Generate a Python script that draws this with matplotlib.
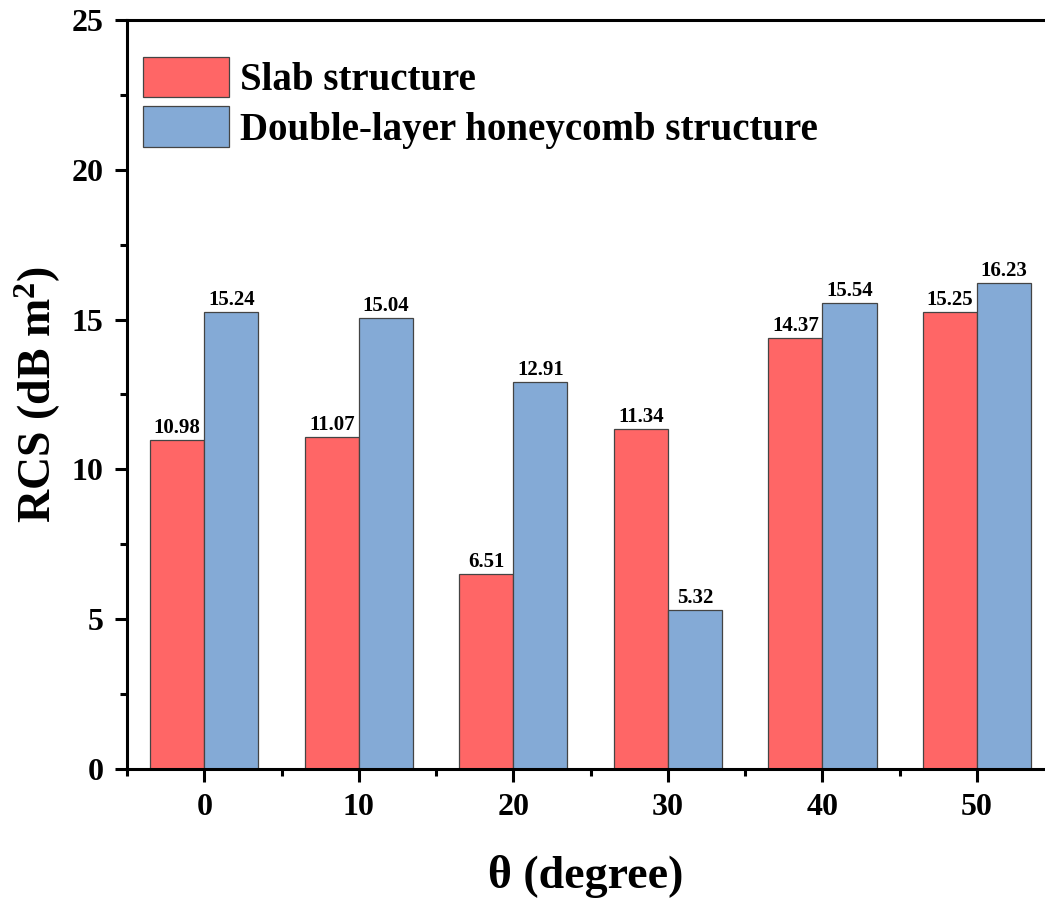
import matplotlib
matplotlib.use("Agg")
import matplotlib.pyplot as plt
import numpy as np
from matplotlib.ticker import MultipleLocator

plt.rcParams['font.family'] = ['Liberation Serif', 'DejaVu Serif']
plt.rcParams['font.weight'] = 'bold'
plt.rcParams['mathtext.fontset'] = 'custom'
plt.rcParams['mathtext.rm'] = 'Liberation Serif:bold'
plt.rcParams['mathtext.bf'] = 'Liberation Serif:bold'
plt.rcParams['mathtext.it'] = 'Liberation Serif:bold'

# Data
angles = [0, 10, 20, 30, 40, 50]
slab = [10.98, 11.07, 6.51, 11.34, 14.37, 15.25]
honeycomb = [15.24, 15.04, 12.91, 5.32, 15.54, 16.23]
series_names = ["Slab structure", "Double-layer honeycomb structure"]

red = "#FF6666"
blue = "#84AAD6"
edge = "#444444"

fig = plt.figure(figsize=(10.45, 9.05), dpi=100)
ax = fig.add_axes([127 / 1045, (905 - 769) / 905, 1 - 127 / 1045, (769 - 20) / 905])

x = np.array(angles, dtype=float)
w = 3.5
b1 = ax.bar(x - w / 2, slab, width=w, color=red, edgecolor=edge, linewidth=0.9,
            label=series_names[0])
b2 = ax.bar(x + w / 2, honeycomb, width=w, color=blue, edgecolor=edge, linewidth=0.9,
            label=series_names[1])

for bars, vals in ((b1, slab), (b2, honeycomb)):
    for rect, v in zip(bars, vals):
        ax.annotate(f"{v:.2f}", (rect.get_x() + rect.get_width() / 2, v),
                    xytext=(0, 1.5), textcoords="offset points",
                    ha="center", va="bottom", fontsize=15, fontweight="bold")

ax.set_xlim(-5, 54.4)
ax.set_ylim(0, 25)
ax.set_xticks(angles)
ax.xaxis.set_minor_locator(MultipleLocator(5))
ax.yaxis.set_major_locator(MultipleLocator(5))
ax.yaxis.set_minor_locator(MultipleLocator(2.5))

for side in ("left", "bottom", "top"):
    ax.spines[side].set_linewidth(2.2)
ax.spines["right"].set_visible(False)

ax.tick_params(axis="both", which="major", direction="out", length=9, width=2.2,
               labelsize=23, pad=8)
ax.tick_params(axis="both", which="minor", direction="out", length=5, width=2.2)
ax.tick_params(top=False, right=False, which="both")
for lab in ax.get_xticklabels() + ax.get_yticklabels():
    lab.set_fontweight("bold")

ax.set_ylabel(r"RCS (dB m$^{2}$)", fontsize=33, fontweight="bold", labelpad=6)
ax.set_xlabel("θ (degree)", fontsize=33, fontweight="bold", labelpad=24)

leg = ax.legend(loc="upper left", bbox_to_anchor=(16 / 918, 1 - 37 / 749),
                frameon=False, fontsize=28, handlelength=2.2, handleheight=1.22,
                handletextpad=0.3, labelspacing=0.18, borderpad=0, borderaxespad=0)
for t in leg.get_texts():
    t.set_fontweight("bold")

fig.savefig("out.png", dpi=100)
